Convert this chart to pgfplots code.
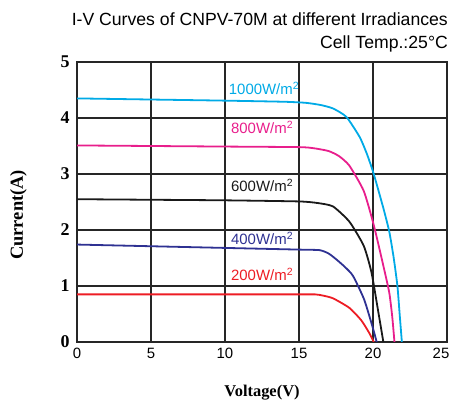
\documentclass[border=0pt]{standalone}
\usepackage{fontspec}
\setmainfont{Liberation Serif}
\newfontfamily\arial{Liberation Sans}
\usepackage{pgfplots}
\pgfplotsset{compat=1.18}
\definecolor{c1000}{RGB}{0,170,230}
\definecolor{c800}{RGB}{232,30,140}
\definecolor{c600}{RGB}{25,25,25}
\definecolor{c400}{RGB}{46,49,146}
\definecolor{c200}{RGB}{237,28,36}
\begin{document}
\begin{tikzpicture}
\path[use as bounding box] (0,0) rectangle (454bp,405bp);
\begin{axis}[
  at={(77bp,63bp)}, anchor=south west,
  width=370bp, height=280bp, scale only axis,
  xmin=0, xmax=25, ymin=0, ymax=5,
  xtick={0,5,...,20}, ytick={0,1,...,5},
  extra x ticks={25},
  extra x tick style={xticklabel style={xshift=-6bp}},
  grid=major,
  major grid style={black!85, line width=1.3bp},
  axis line style={black!85, line width=1.5bp},
  major tick length=0pt,
  /pgf/number format/assume math mode=true,
  xticklabel style={font=\arial\fontsize{15}{15}\selectfont, yshift=-3bp},
  yticklabel style={font=\bfseries\fontsize{18}{18}\selectfont, xshift=-4bp},
  xlabel={Voltage(V)},
  ylabel={Current(A)},
  xlabel style={font=\bfseries\fontsize{16.5}{16.5}\selectfont, at={(axis description cs:0.5,0)}, anchor=base, yshift=-54bp},
  ylabel style={font=\bfseries\fontsize{18.5}{18.5}\selectfont, at={(axis description cs:-0.158,0.454)}, anchor=center},
  every axis plot/.append style={line width=1.8bp, smooth, tension=0.35},
  clip=true,
]
\addplot[c1000] coordinates {(0,4.35) (5,4.33) (10,4.31) (14,4.29) (15.5,4.27) (16.5,4.23) (17.3,4.17) (18.2,4.02) (19.1,3.66) (19.6,3.35) (20.05,3.0) (20.7,2.39) (21.1,1.97) (21.4,1.5) (21.65,1.0) (21.8,0.5) (21.95,0)};
\addplot[c800] coordinates {(0,3.51) (5,3.50) (10,3.49) (15,3.48) (16,3.46) (17,3.41) (17.7,3.32) (18.4,3.15) (19.37,2.70) (20.05,2.09) (20.7,1.36) (21.1,0.88) (21.3,0.45) (21.45,0)};
\addplot[c600] coordinates {(0,2.55) (5,2.54) (10,2.53) (15,2.51) (16.3,2.48) (17.3,2.42) (18.4,2.15) (19.37,1.72) (19.9,1.24) (20.35,0.55) (20.7,0)};
\addplot[c400] coordinates {(0,1.74) (5,1.71) (10,1.68) (15,1.65) (16.4,1.64) (17.0,1.58) (17.5,1.48) (18.1,1.34) (18.65,1.18) (19.4,0.76) (19.97,0.27) (20.25,0)};
\addplot[c200] coordinates {(0,0.85) (5,0.85) (10,0.85) (15,0.85) (16.1,0.85) (16.6,0.83) (17.3,0.78) (18.4,0.61) (19.2,0.39) (19.75,0.16) (20.05,0)};
\begin{scope}[every node/.style={anchor=base west, font=\arial\fontsize{15}{15}\selectfont, inner sep=0pt}]
\node[c1000] at (axis cs:10.25,4.42) {1000W/m\textsuperscript{2}};
\node[c800] at (axis cs:10.4,3.72) {800W/m\textsuperscript{2}};
\node[c600] at (axis cs:10.4,2.68) {600W/m\textsuperscript{2}};
\node[c400] at (axis cs:10.4,1.74) {400W/m\textsuperscript{2}};
\node[c200] at (axis cs:10.4,1.10) {200W/m\textsuperscript{2}};
\end{scope}
\end{axis}
\node[anchor=base east, font=\arial\fontsize{17.7}{17.7}\selectfont, inner sep=0pt] at (448bp,379bp) {I-V Curves of CNPV-70M at different Irradiances};
\node[anchor=base east, font=\arial\fontsize{17.7}{17.7}\selectfont, inner sep=0pt] at (448bp,356bp) {Cell Temp.:25°C};
\end{tikzpicture}
\end{document}
